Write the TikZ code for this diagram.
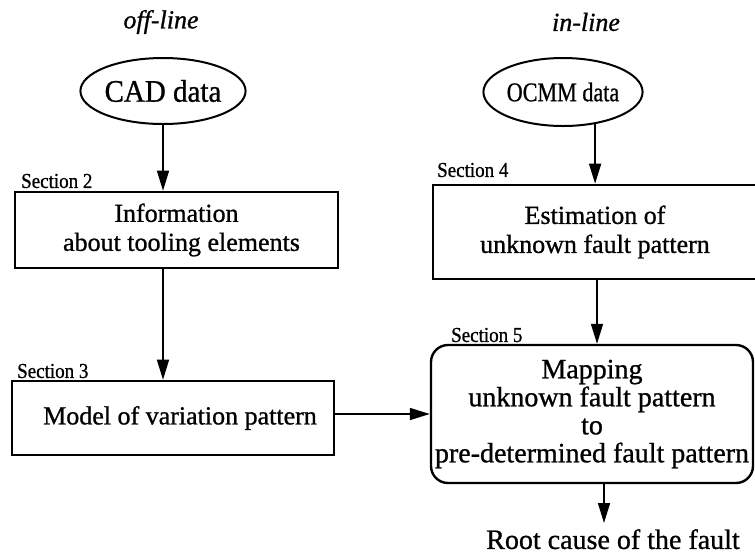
\documentclass[tikz,border=0pt]{standalone}
\usepackage{fontspec}
\setmainfont{Liberation Serif}[FakeBold=0.9]
\usetikzlibrary{arrows.meta,shapes.geometric,calc}

\begin{document}
\begin{tikzpicture}[x=1pt,y=-1pt,
  fs/.style={font=\fontsize{#1}{28}\selectfont},
  procbox/.style={draw,line width=2.6pt,rectangle,inner sep=0pt,align=center},
  mapbox/.style={draw,line width=2.4pt,rectangle,rounded corners=17pt,inner sep=0pt,align=center},
  dataoval/.style={draw,line width=2pt,ellipse,inner sep=0pt},
  seclabel/.style={fs=19,inner sep=0pt,anchor=west},
  header/.style={font=\fontsize{26}{28}\selectfont\itshape,inner sep=0pt},
  flow/.style={line width=1.5pt,-{Triangle[length=20pt,width=12pt]}}
]
\useasboundingbox (0,0) rectangle (755,558);

% column headings
\node[header] (offl) at (161,22) {off-line};
\node[header] (inl)  at (586,22) {in-line};

% data sources
\node[dataoval,minimum width=162pt,minimum height=66pt,fs=29] (cad) at (163,91) {\scalebox{1}[1.08]{CAD data}};
\node[dataoval,minimum width=117pt,minimum height=68pt,fs=27] (ocmm) at (563,92) {\scalebox{0.82}[1]{OCMM data}};

% off-line chain
\node[procbox,minimum width=323pt,minimum height=76pt,fs=26] (info) at (176.5,230)
  {Information\\[1pt]\hspace*{10pt}about tooling elements};
\node[seclabel] (sec2) at (21,181) {\scalebox{1}[1.12]{Section 2}};

\node[procbox,minimum width=322pt,minimum height=74pt,fs=26] (model) at (173,418)
  {\hspace*{14pt}Model of variation pattern};
\node[seclabel] (sec3) at (17,371) {\scalebox{1}[1.12]{Section 3}};

% in-line chain
\node[procbox,minimum width=324pt,minimum height=94pt,fs=26] (est) at (595,232)
  {Estimation of\\[1pt]unknown fault pattern};
\node[seclabel] (sec4) at (437,170) {\scalebox{1}[1.12]{Section 4}};

\node[mapbox,minimum width=322pt,minimum height=138pt,fs=28] (map) at (592,414)
  {Mapping\\unknown fault pattern\\to\\pre-determined fault pattern};
\node[seclabel] (sec5) at (451,335) {\scalebox{1}[1.12]{Section 5}};

% result
\node[fs=28,inner sep=0pt,anchor=north] (root) at (613,529) {Root cause of the fault};

% exit points of the in-line arrows
\coordinate (estout) at ($(est.south)+(2,0)$);
\coordinate (mapout) at ($(map.south)+(12,0)$);

% connectors
\draw[flow] (cad.south) -- (cad.south |- info.north);
\draw[flow] (cad.south |- info.south) -- (cad.south |- model.north);
\draw[flow] (ocmm.-45) -- (ocmm.-45 |- est.north);
\draw[flow] (estout) -- (estout |- map.north);
\draw[flow] (map.west -| model.east) -- (map.west);
\draw[flow,shorten >=6pt] (mapout) -- (mapout |- root.north);
\end{tikzpicture}
\end{document}
